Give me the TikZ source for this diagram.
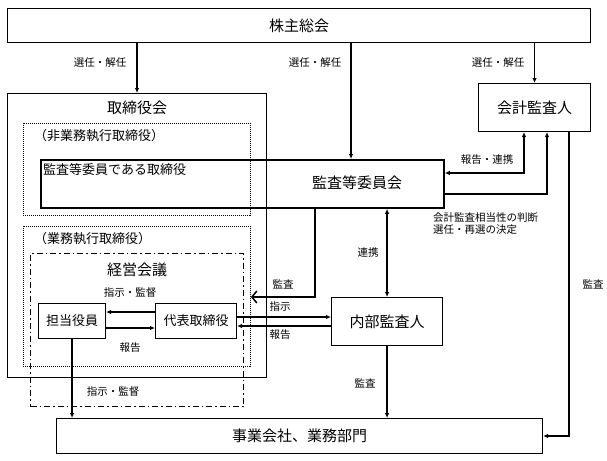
\documentclass[tikz,border=0pt]{standalone}
\usepackage{fontspec}
\setmainfont{Noto Sans CJK JP}
\usetikzlibrary{arrows.meta}

\tikzset{
	box/.style={draw, line width=1.1pt, inner sep=0pt, anchor=north west},
	dotbox/.style={draw, line width=0.9pt, dash pattern=on 1pt off 1pt, inner sep=0pt, anchor=north west},
	dashdotbox/.style={draw, line width=1pt, dash pattern=on 6pt off 3pt on 1.5pt off 3pt, inner sep=0pt, anchor=north west},
	big/.style={font=\fontsize{15pt}{18pt}\selectfont},
	mid/.style={font=\fontsize{13pt}{16pt}\selectfont},
	lbl/.style={font=\fontsize{10.5pt}{12pt}\selectfont, inner sep=0pt},
	conn/.style={line width=1.5pt},
}

\begin{document}
\begin{tikzpicture}[x=1pt, y=-1pt, >={Latex[length=5pt,width=4.5pt]}]
	\useasboundingbox (0,0) rectangle (607,460);
	% boxes
	\node[box, big, minimum width=583pt, minimum height=34pt] (soukai) at (7,8) {株主総会};
	\node[box, minimum width=259pt, minimum height=284pt] (torishimari) at (7,93) {};
	\node[big] (torilbl) at (137,108) {取締役会};
	\node[dotbox, minimum width=227pt, minimum height=92pt] (hishikkou) at (23,123) {};
	\node[mid, anchor=west, inner sep=0pt] at (34,136) {（非業務執行取締役）};
	\node[box, line width=1.8pt, minimum width=403pt, minimum height=48pt] (iinkai) at (40,159) {};
	\node[mid, anchor=west, inner sep=0pt] at (43,170) {監査等委員である取締役};
	\node[big] at (357,183) {監査等委員会};
	\node[dotbox, minimum width=227pt, minimum height=140pt] (shikkou) at (23,226) {};
	\node[mid, anchor=west, inner sep=0pt] at (34,239) {（業務執行取締役）};
	\node[dashdotbox, minimum width=213pt, minimum height=153pt] (keiei) at (30,253) {};
	\node[big] at (137,270) {経営会議};
	\node[box, mid, minimum width=67pt, minimum height=35pt] (tantou) at (38,303) {担当役員};
	\node[box, mid, minimum width=81pt, minimum height=35pt] (daihyou) at (155,303) {代表取締役};
	\node[box, big, minimum width=112pt, minimum height=48pt] (kaikei) at (478,83) {会計監査人};
	\node[box, big, minimum width=111pt, minimum height=48pt] (naibu) at (331,297) {内部監査人};
	\node[box, big, minimum width=486pt, minimum height=35pt] (jigyou) at (56,418) {事業会社、業務部門};

	% bends
	\coordinate (p1) at (351,0);
	\coordinate (p2) at (524,173);
	\coordinate (p3) at (547,194);
	\coordinate (p4) at (315,297);
	\coordinate (p5) at (0,312);
	\coordinate (p6) at (0,317);
	\coordinate (p7) at (0,326);
	\coordinate (p8) at (569,436);
	\coordinate (p9) at (0,328);

	\draw[conn,->] (soukai.south -| torilbl) -- (torishimari.north -| torilbl);
	\draw[conn,->] (soukai.south -| p1) -- (iinkai.north -| p1);
	\draw[conn,->] (soukai.south -| kaikei) -- (kaikei.north);
	\draw[conn,<->] (kaikei.south -| p2) |- (iinkai.east |- p2);
	\draw[conn,->] (iinkai.east |- p3) -| (kaikei.south -| p3);
	\draw[conn,-{Straight Barb[length=5pt,width=12pt]}] (iinkai.south -| p4) |- (shikkou.east |- p4);
	\draw[conn,<->] (iinkai.south -| naibu) -- (naibu.north);
	\draw[conn,->] (daihyou.east |- p6) -- (naibu.west |- p6);
	\draw[conn,->] (naibu.west |- p7) -- (daihyou.east |- p7);
	\draw[conn,->] (naibu.south) -- (jigyou.north -| naibu);
	\draw[conn,->] (kaikei.south -| p8) |- (jigyou.east |- p8);
	\draw[conn,->] (daihyou.west |- p5) -- (tantou.east |- p5);
	\draw[conn,->] (tantou.east |- p9) -- (daihyou.west |- p9);
	\draw[conn,->] (tantou.south) -- (jigyou.north -| tantou);

	% labels
	\node[lbl] at (100,63) {選任・解任};
	\node[lbl] at (315,63) {選任・解任};
	\node[lbl] at (498,63) {選任・解任};
	\node[lbl] at (487,160) {報告・連携};
	\node[lbl, anchor=west, align=left] at (433,224) {会計監査相当性の判断\\選任・再選の決定};
	\node[lbl] at (283,284) {監査};
	\node[lbl] at (368,253) {連携};
	\node[lbl] at (280,307) {指示};
	\node[lbl] at (280,335) {報告};
	\node[lbl] at (365,383) {監査};
	\node[lbl] at (593,284) {監査};
	\node[lbl] at (130,293) {指示・監督};
	\node[lbl] at (130,348) {報告};
	\node[lbl] at (113,392) {指示・監督};
\end{tikzpicture}
\end{document}
